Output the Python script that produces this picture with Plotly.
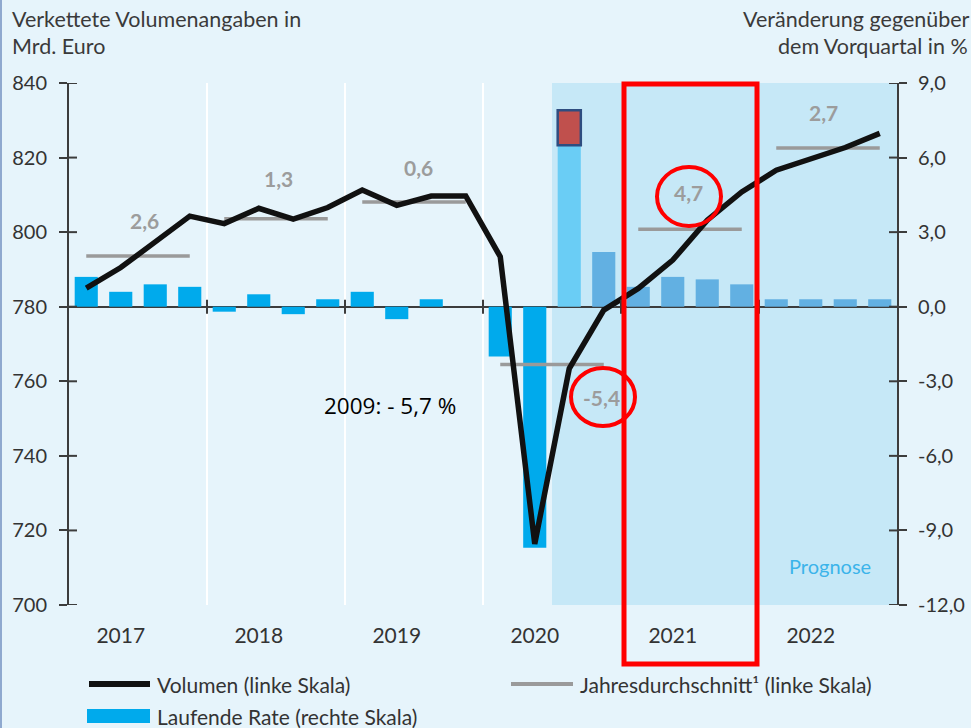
import plotly.graph_objects as go

# ---------------- data ----------------
quarters = ["2017 Q1", "2017 Q2", "2017 Q3", "2017 Q4",
            "2018 Q1", "2018 Q2", "2018 Q3", "2018 Q4",
            "2019 Q1", "2019 Q2", "2019 Q3", "2019 Q4",
            "2020 Q1", "2020 Q2", "2020 Q3", "2020 Q4",
            "2021 Q1", "2021 Q2", "2021 Q3", "2021 Q4",
            "2022 Q1", "2022 Q2", "2022 Q3", "2022 Q4"]
years = ["2017", "2018", "2019", "2020", "2021", "2022"]

# Volumen (Mrd. Euro, left scale)
volume = [785.0, 790.5, 797.4, 804.3,
          802.3, 806.4, 803.5, 806.6,
          811.3, 807.2, 809.7, 809.7,
          793.4, 716.4, 763.4, 779.1,
          784.9, 792.5, 803.2, 810.8,
          816.6, 819.8, 822.7, 826.5]

# Laufende Rate (% ggü. Vorquartal, right scale)
rate = [1.2, 0.6, 0.9, 0.8,
        -0.2, 0.5, -0.3, 0.3,
        0.6, -0.5, 0.3, 0.0,
        -2.0, -9.7, 7.9, 2.2,
        0.8, 1.2, 1.1, 0.9,
        0.3, 0.3, 0.3, 0.3]

# marked revision on top of the 2020 Q3 bar
revision_quarter = "2020 Q3"
revision_low = 6.5
revision_high = 7.9

# Jahresdurchschnitt (left scale) and annual growth labels
annual_avg = [793.6, 803.6, 808.1, 764.5, 800.8, 822.6]
annual_growth = ["2,6", "1,3", "0,6", "-5,4", "4,7", "2,7"]

left_ticks = [700, 720, 740, 760, 780, 800, 820, 840]
right_ticks = [-12, -9, -6, -3, 0, 3, 6, 9]
right_tick_labels = ["-12,0", "-9,0", "-6,0", "-3,0", "0,0", "3,0", "6,0", "9,0"]

forecast_start = "2020 Q3"

# ---------------- geometry helpers ----------------
W, H = 971, 728
PL, PR, PT, PB = 69, 897, 83, 605


def px_x(px):
    return (px - PL) / (PR - PL)


def px_y(py):
    return (PB - py) / (PB - PT)


qi = list(range(len(quarters)))
fc_idx = quarters.index(forecast_start)
rev_idx = quarters.index(revision_quarter)

BG = "#E6F4FB"
SHADE = "#C6E8F7"
HIST = "#00AAEC"
FCST = "#62B0E2"
LIGHT = "#6ACDF5"
AXC = "#3C3C3C"
GRAY = "#9A9A9A"
FONT = "Lato, 'Open Sans', sans-serif"

bar_colors = []
for i in qi:
    if i < fc_idx:
        bar_colors.append(HIST)
    elif i == fc_idx:
        bar_colors.append(LIGHT)
    else:
        bar_colors.append(FCST)

fig = go.Figure()

fig.add_trace(go.Bar(x=qi, y=rate, width=0.67, marker=dict(color=bar_colors, line=dict(width=0)),
                     yaxis="y", showlegend=False, name="Laufende Rate (rechte Skala)"))
fig.add_trace(go.Bar(x=[rev_idx], y=[revision_high - revision_low], base=[revision_low], width=0.67,
                     marker=dict(color="#C0504D", line=dict(color="#2E4D80", width=2.5)),
                     yaxis="y", showlegend=False))

# annual averages as segments
ax, ay = [], []
for k, v in enumerate(annual_avg):
    ax += [4 * k, 4 * k + 3, None]
    ay += [v, v, None]
fig.add_trace(go.Scatter(x=ax, y=ay, mode="lines", line=dict(color=GRAY, width=3.5),
                         yaxis="y2", showlegend=False, name="Jahresdurchschnitt"))

fig.add_trace(go.Scatter(x=qi, y=volume, mode="lines", line=dict(color="#111111", width=5.5),
                         yaxis="y2", showlegend=False, name="Volumen (linke Skala)"))

shapes = []
# forecast shading
shapes.append(dict(type="rect", layer="below", xref="x", yref="paper",
                   x0=fc_idx - 0.5, x1=len(qi) - 0.5, y0=0, y1=1,
                   fillcolor=SHADE, line=dict(width=0)))
# white year separators (before forecast area)
for k in range(1, len(years)):
    b = 4 * k - 0.5
    if b < fc_idx - 0.5:
        shapes.append(dict(type="line", layer="below", xref="x", yref="paper",
                           x0=b, x1=b, y0=0, y1=1, line=dict(color="white", width=2)))
    # small ticks across the zero line
    shapes.append(dict(type="line", xref="x", yref="y", x0=b, x1=b, y0=-0.28, y1=0.28,
                       line=dict(color=AXC, width=2)))
# inner half of axis ticks
for v in left_ticks:
    shapes.append(dict(type="line", xref="paper", yref="y2", x0=0, x1=px_x(PL + 8), y0=v, y1=v,
                       line=dict(color=AXC, width=2)))
for v in right_ticks:
    shapes.append(dict(type="line", xref="paper", yref="y", x0=px_x(PR - 8), x1=1, y0=v, y1=v,
                       line=dict(color=AXC, width=2)))

# red highlight markings
RED = "#FF0000"
shapes.append(dict(type="rect", xref="paper", yref="paper",
                   x0=px_x(624), x1=px_x(757), y0=px_y(664), y1=px_y(84),
                   line=dict(color=RED, width=5)))
shapes.append(dict(type="circle", xref="paper", yref="paper",
                   x0=px_x(657), x1=px_x(721), y0=px_y(226), y1=px_y(167),
                   line=dict(color=RED, width=4)))
shapes.append(dict(type="circle", xref="paper", yref="paper",
                   x0=px_x(571), x1=px_x(635), y0=px_y(426), y1=px_y(368),
                   line=dict(color=RED, width=4)))
# left border
shapes.append(dict(type="line", xref="paper", yref="paper", x0=px_x(1), x1=px_x(1),
                   y0=px_y(0), y1=px_y(H), line=dict(color="#8FA9CF", width=2)))

# ---------------- legend (drawn) ----------------
shapes.append(dict(type="line", xref="paper", yref="paper", x0=px_x(89), x1=px_x(150),
                   y0=px_y(684), y1=px_y(684), line=dict(color="#111111", width=6)))
shapes.append(dict(type="line", xref="paper", yref="paper", x0=px_x(511), x1=px_x(573),
                   y0=px_y(684), y1=px_y(684), line=dict(color=GRAY, width=4)))
shapes.append(dict(type="rect", xref="paper", yref="paper", x0=px_x(87), x1=px_x(150),
                   y0=px_y(723), y1=px_y(709), fillcolor=HIST, line=dict(width=0)))

annotations = []
legend_items = [("Volumen (linke Skala)", 155, 684),
                ("Jahresdurchschnitt¹ (linke Skala)", 578, 684),
                ("Laufende Rate (rechte Skala)", 155, 716)]
for txt, x, y in legend_items:
    annotations.append(dict(text=txt, xref="paper", yref="paper", x=px_x(x), y=px_y(y),
                            xanchor="left", yanchor="middle", showarrow=False,
                            font=dict(family=FONT, size=21, color="#333333")))

# axis titles
for txt, x, y in [("Verkettete Volumenangaben in", 10, 19), ("Mrd. Euro", 10, 46),
                  ("Veränderung gegenüber", 741, 19), ("dem Vorquartal in %", 776, 46)]:
    annotations.append(dict(text=txt, xref="paper", yref="paper", x=px_x(x), y=px_y(y),
                            xanchor="left", yanchor="middle", showarrow=False,
                            font=dict(family=FONT, size=21.5, color="#3a3a3a")))

# annual growth labels
label_pos = [(1.70, 803.0), (5.56, 814.5), (9.64, 817.4), (14.94, 755.7), (17.47, 810.5), (21.36, 832.2)]
for txt, (x, y) in zip(annual_growth, label_pos):
    annotations.append(dict(text=f"<b>{txt}</b>", xref="x", yref="y2", x=x, y=y, showarrow=False,
                            font=dict(family=FONT, size=21, color="#9C9C9C")))

annotations.append(dict(text="Prognose", xref="x", yref="y2", x=21.55, y=710.5, showarrow=False,
                        font=dict(family=FONT, size=20, color="#3CB4EA")))
annotations.append(dict(text="2009: - 5,7 %", xref="x", yref="y2", x=8.8, y=753.6, showarrow=False,
                        font=dict(family="'Open Sans', sans-serif", size=22.5, color="#000000")))

fig.update_layout(
    width=W, height=H,
    margin=dict(l=PL, r=W - PR, t=PT, b=H - PB, autoexpand=False),
    paper_bgcolor=BG, plot_bgcolor=BG,
    barmode="overlay", showlegend=False,
    font=dict(family=FONT, size=20, color="#333333"),
    xaxis=dict(range=[-0.5, len(qi) - 0.5], tickvals=[4 * k + 1 for k in range(len(years))],
               ticktext=years, showline=False, showgrid=False, zeroline=False, ticks="",
               automargin=False,
               ticklabelstandoff=16, tickfont=dict(family=FONT, size=21, color="#333333")),
    yaxis=dict(side="right", range=[-12, 9], tickvals=right_ticks, ticktext=right_tick_labels,
               showline=True, linecolor=AXC, linewidth=2, ticks="outside", ticklen=8, tickwidth=2,
               tickcolor=AXC, showgrid=False, zeroline=True, zerolinecolor=AXC, zerolinewidth=2,
               automargin=False,
               ticklabelstandoff=7, tickfont=dict(family=FONT, size=20, color="#333333")),
    yaxis2=dict(side="left", overlaying="y", range=[700, 840], tickvals=left_ticks,
                showline=True, linecolor=AXC, linewidth=2, ticks="outside", ticklen=8, tickwidth=2,
                tickcolor=AXC, showgrid=False, zeroline=False, automargin=False,
                ticklabelstandoff=8, tickfont=dict(family=FONT, size=20, color="#333333")),
    shapes=shapes, annotations=annotations,
)

fig.write_html("out.html", config={"displayModeBar": False},
               post_script="document.body.style.margin='0';document.body.style.overflow='hidden';")
